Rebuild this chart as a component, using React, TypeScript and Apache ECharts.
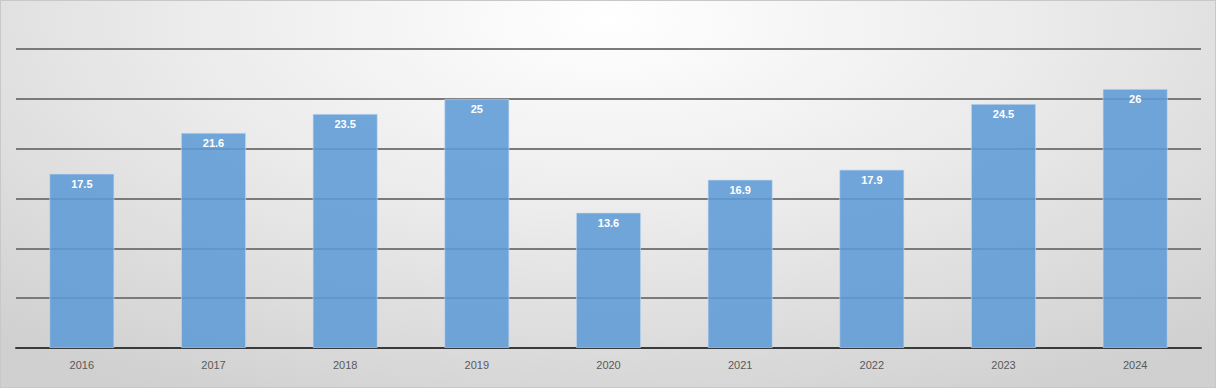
import React, { useEffect, useRef } from "react";
import * as echarts from "echarts";

const categories = ["2016", "2017", "2018", "2019", "2020", "2021", "2022", "2023", "2024"];
const values = [17.5, 21.6, 23.5, 25, 13.6, 16.9, 17.9, 24.5, 26];

export default function App() {
  const ref = useRef<HTMLDivElement>(null);
  useEffect(() => {
    document.body.style.margin = "0";
    const chart = echarts.init(ref.current!, null, { renderer: "svg" });
    chart.setOption({
      animation: false,
      backgroundColor: "transparent",
      grid: { left: 15, right: 14, top: 48, bottom: 39, containLabel: false },
      xAxis: {
        type: "category",
        data: categories,
        axisTick: { show: false },
        axisLine: { show: true, lineStyle: { color: "#3a3a3a", width: 2 } },
        axisLabel: { color: "#595959", fontSize: 11, margin: 11, fontFamily: "Liberation Sans, Arial, sans-serif" },
        z: 1,
      },
      yAxis: {
        type: "value",
        min: 0,
        max: 30,
        interval: 5,
        axisLabel: { show: false },
        axisLine: { show: false },
        axisTick: { show: false },
        splitLine: { show: true, lineStyle: { color: "#7a7a7a", width: 2 } },
      },
      series: [
        {
          type: "bar",
          data: values,
          barWidth: "49.5%",
          itemStyle: { color: "rgba(95,155,215,0.88)", borderColor: "rgba(200,220,240,0.6)", borderWidth: 1 },
          label: {
            show: true,
            position: "insideTop",
            distance: 5,
            color: "#ffffff",
            fontWeight: "bold",
            fontSize: 11,
            fontFamily: "Liberation Sans, Arial, sans-serif",
          },
          z: 3,
        },
      ],
    });
    return () => chart.dispose();
  }, []);
  return (
    <div
      style={{
        width: 1216,
        height: 388,
        boxSizing: "border-box",
        border: "1px solid #c8c8c8",
        background: "radial-gradient(ellipse 75% 110% at 50% 5%, #ffffff 0%, #ececec 45%, #d0d0d0 100%)",
      }}
    >
      <div ref={ref} style={{ width: 1214, height: 386 }} />
    </div>
  );
}
